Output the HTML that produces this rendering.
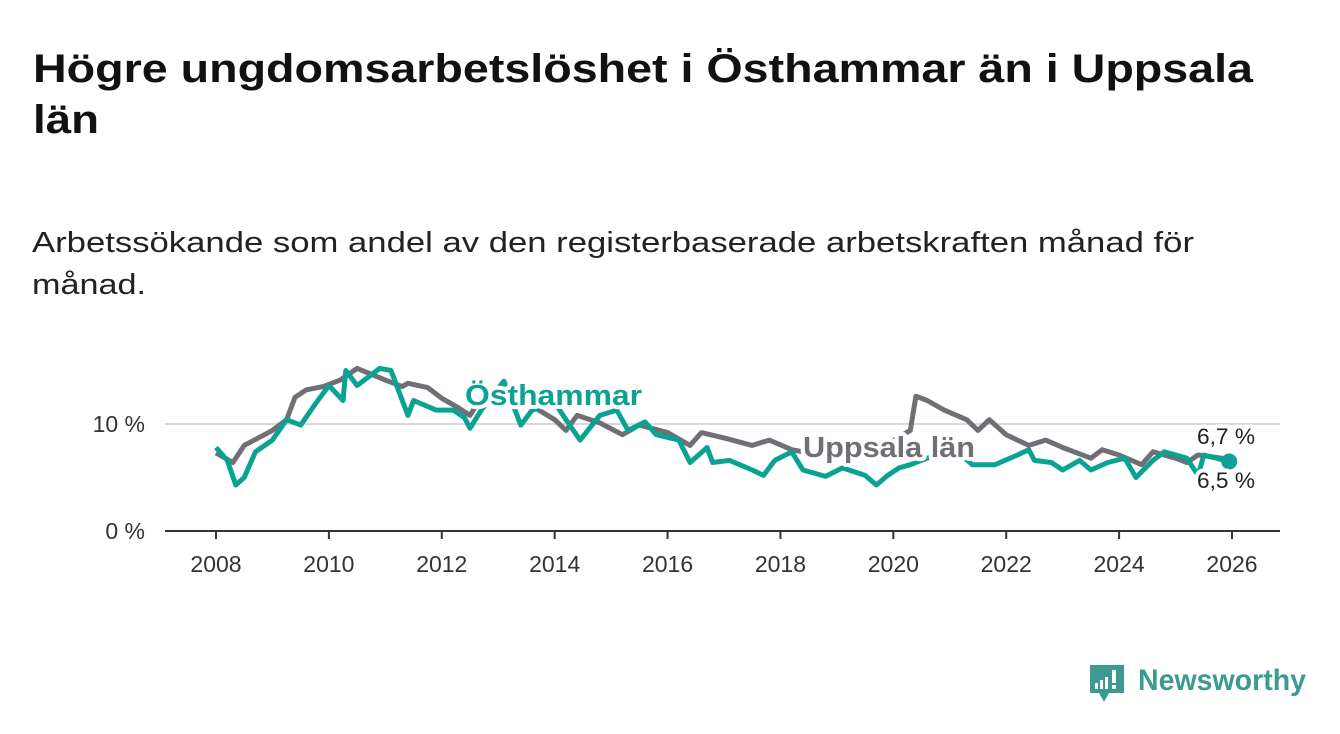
<!DOCTYPE html>
<html><head><meta charset="utf-8"><style>
html,body{margin:0;padding:0;background:#fff;}
svg{display:block;font-family:"Liberation Sans","DejaVu Sans",sans-serif;}
</style></head><body>
<svg id="chart" width="1340" height="734" viewBox="0 0 1340 734" xmlns="http://www.w3.org/2000/svg">
<text x="33" y="82" font-size="40" font-weight="bold" fill="#111" textLength="1220" lengthAdjust="spacingAndGlyphs">Högre ungdomsarbetslöshet i Östhammar än i Uppsala</text>
<text x="33" y="133" font-size="40" font-weight="bold" fill="#111" textLength="66" lengthAdjust="spacingAndGlyphs">län</text>
<text x="32" y="252" font-size="29" fill="#222" textLength="1162" lengthAdjust="spacingAndGlyphs">Arbetssökande som andel av den registerbaserade arbetskraften månad för</text>
<text x="32" y="294" font-size="29" fill="#222" textLength="114" lengthAdjust="spacingAndGlyphs">månad.</text>
<g id="grid"></g>
<g id="xaxis"></g>
<g id="series"></g>
<g id="labels"></g>
<g>
<path d="M1090 665 h34 v28 h-15 l-5 9 l-5 -9 h-9 z" fill="#3c9a91"/>
<rect x="1095" y="683" width="3" height="6" fill="#fff"/>
<rect x="1100" y="680" width="3" height="9" fill="#fff"/>
<rect x="1105" y="677" width="3" height="12" fill="#fff"/>
<rect x="1112" y="670" width="4" height="13" fill="#fff"/>
<rect x="1112" y="685" width="4" height="4" fill="#fff"/>
<text x="1138" y="690" font-size="30" font-weight="bold" fill="#3c9a91" textLength="168" lengthAdjust="spacingAndGlyphs">Newsworthy</text>
</g>
</svg>
<script>
const uppT=[2008.0,2008.3,2008.5,2008.75,2009.0,2009.25,2009.4,2009.6,2009.9,2010.2,2010.5,2011.0,2011.3,2011.4,2011.75,2012.0,2012.3,2012.5,2012.7,2013.0,2013.5,2014.0,2014.2,2014.4,2014.8,2015.2,2015.5,2016.0,2016.4,2016.6,2017.0,2017.5,2017.8,2018.2,2018.4,2018.8,2019.3,2019.8,2020.3,2020.4,2020.6,2020.9,2021.3,2021.5,2021.7,2022.0,2022.4,2022.7,2023.0,2023.5,2023.7,2024.0,2024.4,2024.6,2025.0,2025.2,2025.4,2025.7,2025.95];
const uppV=[7.3,6.4,8.0,8.7,9.4,10.4,12.5,13.2,13.5,14.1,15.2,14.1,13.5,13.8,13.4,12.4,11.5,10.8,12.5,13.0,12.0,10.4,9.4,10.8,10.1,9.0,9.9,9.2,8.0,9.2,8.7,8.0,8.5,7.6,7.4,7.2,7.5,7.8,9.4,12.6,12.2,11.3,10.4,9.4,10.4,9.0,8.0,8.5,7.8,6.8,7.6,7.1,6.2,7.4,6.8,6.4,7.1,6.9,6.7];
const ostT=[2008.0,2008.2,2008.35,2008.5,2008.7,2009.0,2009.25,2009.5,2009.75,2010.0,2010.25,2010.3,2010.5,2010.9,2011.1,2011.4,2011.5,2011.9,2012.2,2012.4,2012.5,2012.7,2013.1,2013.4,2013.6,2014.0,2014.2,2014.45,2014.8,2015.1,2015.3,2015.6,2015.8,2016.2,2016.4,2016.7,2016.8,2017.1,2017.5,2017.7,2017.9,2018.2,2018.4,2018.8,2019.1,2019.5,2019.7,2019.9,2020.1,2020.3,2020.7,2021.0,2021.4,2021.8,2022.2,2022.4,2022.5,2022.8,2023.0,2023.3,2023.5,2023.8,2024.1,2024.3,2024.6,2024.8,2025.2,2025.4,2025.5,2025.8,2025.95];
const ostV=[7.8,6.6,4.3,5.0,7.4,8.5,10.4,9.9,11.8,13.6,12.2,15.0,13.6,15.2,15.0,10.8,12.2,11.3,11.3,10.6,9.6,11.3,14.0,9.9,11.3,12.0,10.4,8.5,10.8,11.3,9.4,10.2,9.0,8.5,6.4,7.8,6.4,6.6,5.7,5.2,6.6,7.4,5.7,5.1,5.9,5.2,4.3,5.2,5.9,6.2,7.0,8.0,6.2,6.2,7.1,7.6,6.6,6.4,5.7,6.6,5.7,6.4,6.8,5.0,6.6,7.4,6.8,5.2,7.1,6.7,6.5];
const yTicks=[0,10];
const xTicks=[2008,2010,2012,2014,2016,2018,2020,2022,2024,2026];
const NS='http://www.w3.org/2000/svg';
const sx=t=>216+(t-2008)*(1232-216)/18;
const sy=v=>531-v*10.7;
function mk(tag,attrs,parent){const e=document.createElementNS(NS,tag);for(const k in attrs)e.setAttribute(k,attrs[k]);parent.appendChild(e);return e;}
const grid=document.getElementById('grid'),xa=document.getElementById('xaxis'),ser=document.getElementById('series'),lab=document.getElementById('labels');
yTicks.forEach(v=>{
 if(v>0){const l=mk('line',{x1:165,x2:1280,y1:sy(v),y2:sy(v),stroke:'#d9d9d9','stroke-width':2},grid);
 
 }
 const t=mk('text',{x:145,y:sy(v)+8,'font-size':23,fill:'#333','text-anchor':'end'},grid);
 
 
 t.textContent=v+' %';
});
const ax=mk('line',{x1:165,x2:1280,y1:531,y2:531,stroke:'#333','stroke-width':2},xa);


xTicks.forEach(y=>{
 const tk=mk('line',{x1:sx(y),x2:sx(y),y1:531,y2:539,stroke:'#333','stroke-width':2},xa);
 
 
 const t=mk('text',{x:sx(y),y:572,'font-size':23,fill:'#333','text-anchor':'middle'},xa);
 
 
 t.textContent=y;
});
function line(T,V,color,name){
 const d=T.map((t,i)=>(i?'L':'M')+sx(t).toFixed(1)+' '+sy(V[i]).toFixed(1)).join(' ');
 const p=mk('path',{d:d,fill:'none',stroke:color,'stroke-width':5,'stroke-linejoin':'round'},ser);
 
 
}
line(uppT,uppV,'#706f75','line-uppsala-lan');
line(ostT,ostV,'#0aa393','line-osthammar');
const dot=mk('circle',{cx:sx(ostT[ostT.length-1]),cy:sy(ostV[ostV.length-1]),r:8,fill:'#0aa393'},ser);


function label(x,y,txt,color,size,bold,name,len){
 const t=mk('text',{x:x,y:y,'font-size':size,fill:color,'font-weight':bold?'bold':'normal',stroke:'#fff','stroke-width':8,'paint-order':'stroke','stroke-linejoin':'round'},lab);
 if(len){t.setAttribute('textLength',len);t.setAttribute('lengthAdjust','spacingAndGlyphs');}
 
 
 t.textContent=txt;
}
label(465,405,'Östhammar','#0aa393',29,true,'label-osthammar',177);
label(803,457,'Uppsala län','#706f75',29,true,'label-uppsala-lan',172);
label(1197,444,'6,7 %','#222',22,false,'end-label-uppsala',58);
label(1197,488,'6,5 %','#222',22,false,'end-label-osthammar',58);
</script>
</body></html>
